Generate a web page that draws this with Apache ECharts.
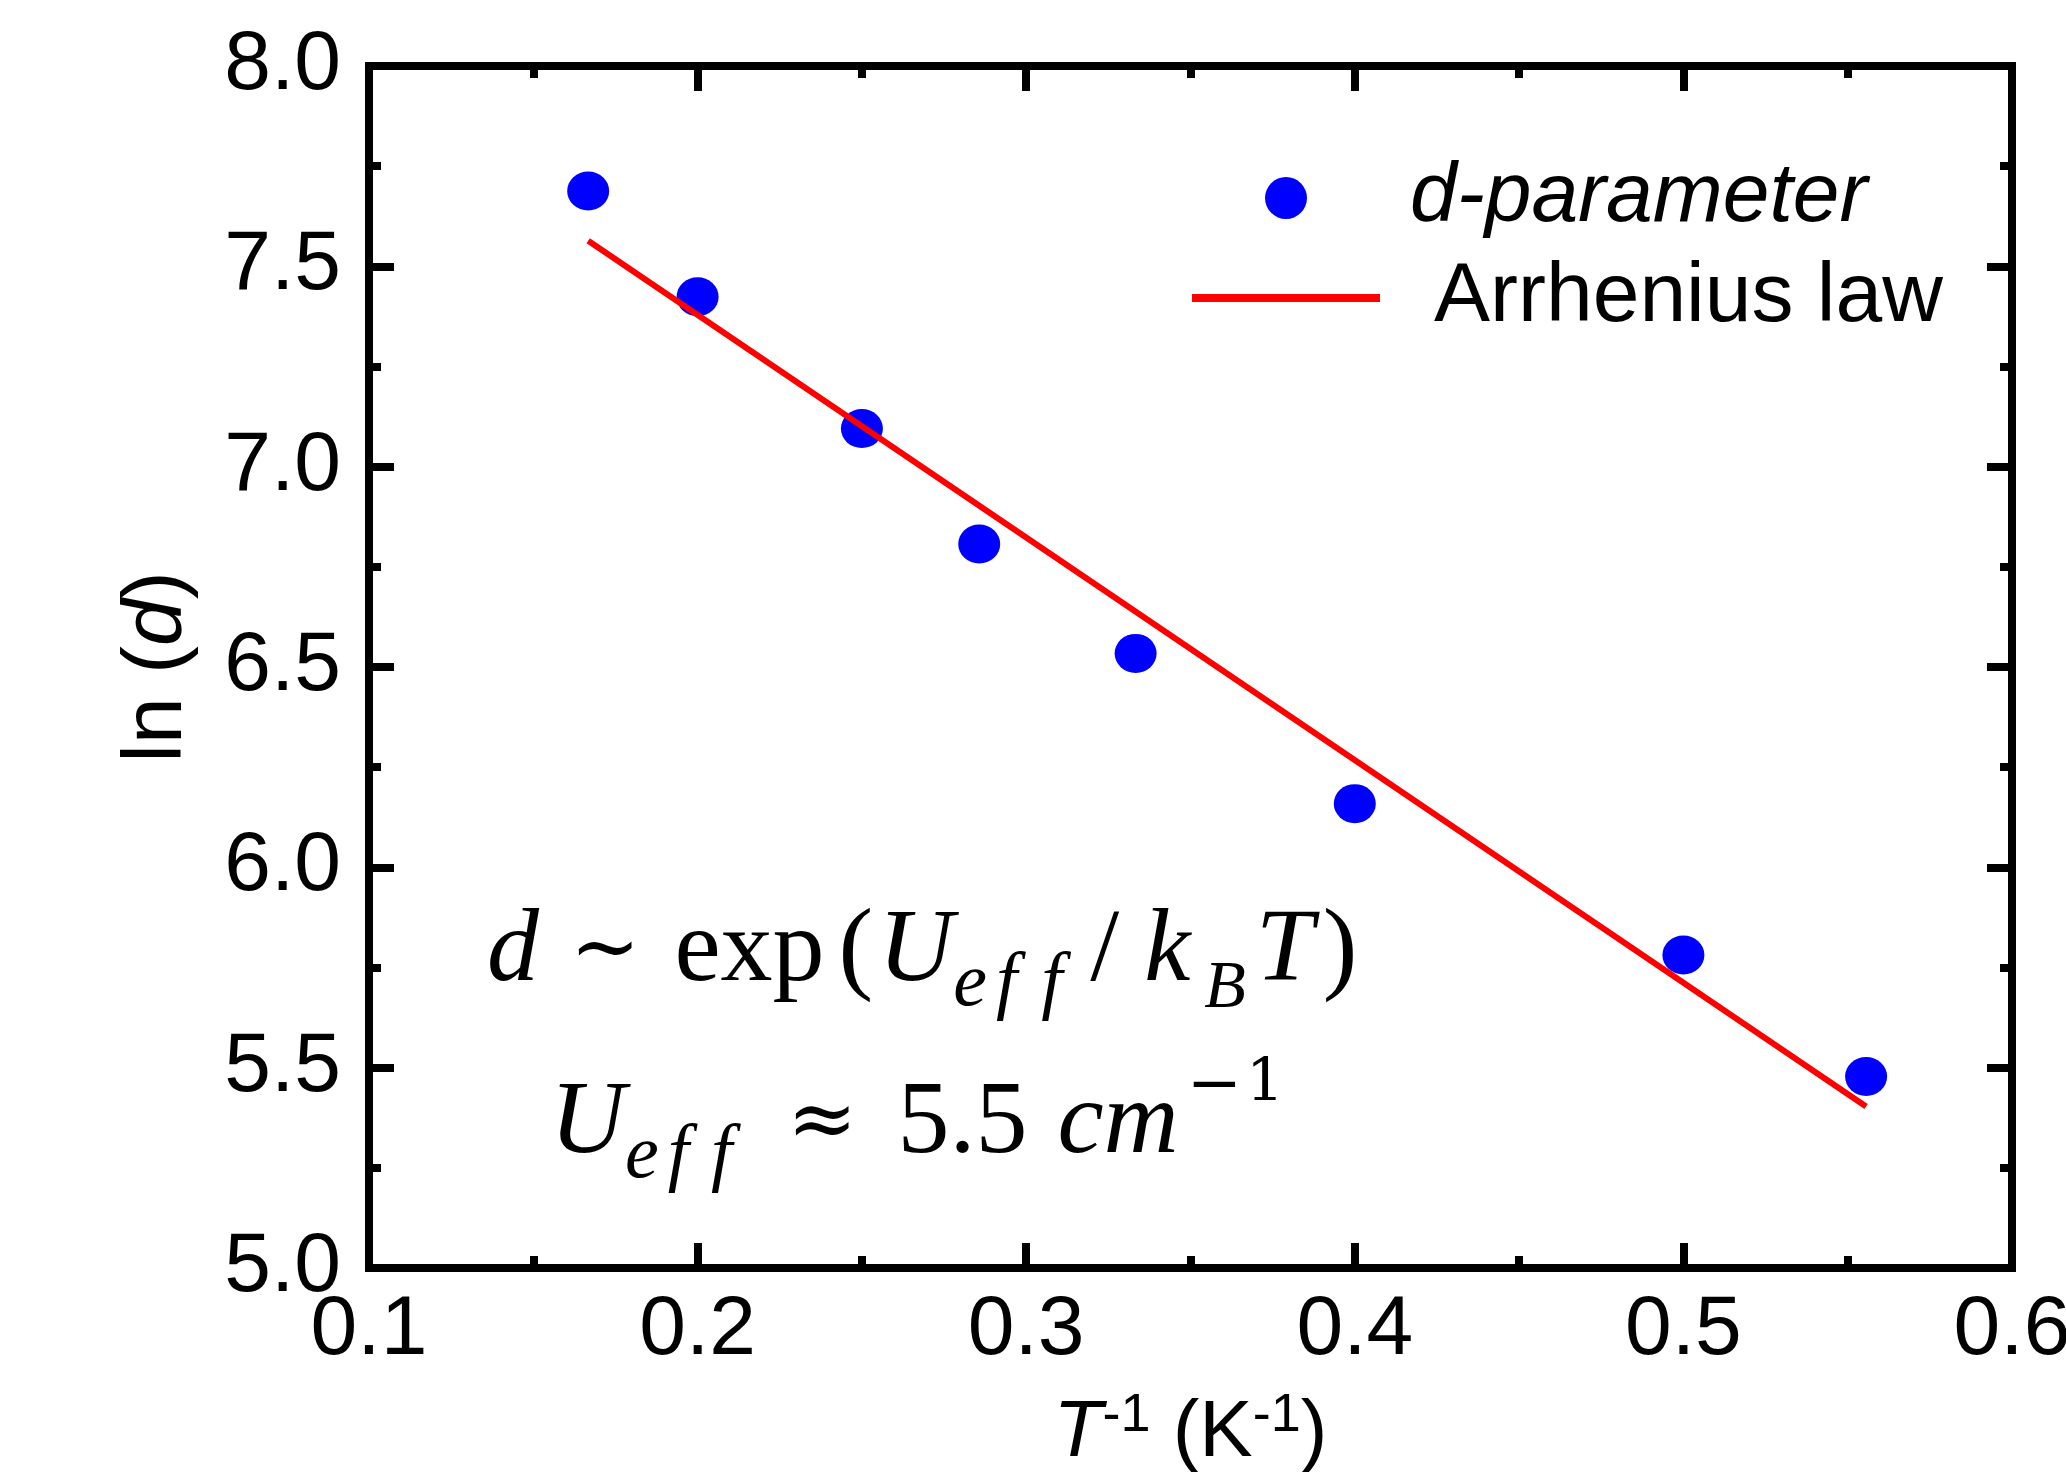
<!DOCTYPE html>
<html>
<head>
<meta charset="utf-8">
<script src="https://cdn.jsdelivr.net/npm/echarts@6/dist/echarts.min.js"></script>
<style>
  html, body { margin: 0; padding: 0; background: #ffffff; }
  #chart { width: 2066px; height: 1472px; }
</style>
</head>
<body>
<div id="chart"></div>
<script>
// Inverse temperature (1/K) and ln of the d-parameter
const invT = [0.1667, 0.2, 0.25, 0.2857, 0.3333, 0.4, 0.5, 0.5556];
const lnD = [7.688, 7.424, 7.095, 6.807, 6.534, 6.159, 5.781, 5.478];

// Arrhenius fit, evaluated at both ends of the measured range
const fitInvT = [0.1667, 0.5556];
const fitLnD = [7.564, 5.403];

// Axis ticks
const xTicks = [0.1, 0.2, 0.3, 0.4, 0.5, 0.6];
const yTicks = [5.0, 5.5, 6.0, 6.5, 7.0, 7.5, 8.0];

const seriesNames = ['d-parameter', 'Arrhenius law'];

const SANS = 'Liberation Sans, Arial, Helvetica, sans-serif';
const SERIF = 'Liberation Serif, Times New Roman, serif';
const SYM = 'DejaVu Serif, serif';

const scatterData = invT.map((x, i) => [x, lnD[i]]);
const fitData = fitInvT.map((x, i) => [x, fitLnD[i]]);

const tickStyle = { color: '#000', width: 8 };
const tickLabel = (margin) => ({
  show: true,
  color: '#000',
  fontFamily: SANS,
  fontSize: 84,
  lineHeight: 82,
  margin: margin,
  formatter: v => v.toFixed(1)
});

function makeAxis(ticks, position, extra) {
  return Object.assign({
    type: 'value',
    position: position,
    min: ticks[0],
    max: ticks[ticks.length - 1],
    interval: +(ticks[1] - ticks[0]).toFixed(3),
    axisLine: { show: false },
    axisTick: { show: true, inside: true, length: 25, lineStyle: tickStyle },
    minorTick: { show: true, splitNumber: 2, length: 12, lineStyle: tickStyle },
    splitLine: { show: false },
    minorSplitLine: { show: false },
    axisLabel: { show: false }
  }, extra || {});
}

// Math annotation: serif text, italic variables, sub- and superscripts.
// Token padding reproduces the wide spacing of a math typesetter.
const M = 104;          // main size
const LH = 140;         // line box
const base = { fontFamily: SERIF, color: '#000' };
const mk = (o) => Object.assign({}, base, o);
const math1 = {
  i:  mk({ fontStyle: 'italic', fontSize: M, lineHeight: LH }),
  t:  mk({ fontFamily: SYM, fontSize: 84, lineHeight: LH, padding: [0, 0, 0, 31] }),
  x:  mk({ fontSize: M, lineHeight: LH, padding: [0, 0, 0, 34] }),
  o:  mk({ fontSize: M, lineHeight: LH, padding: [0, 0, 0, 14] }),
  u:  mk({ fontStyle: 'italic', fontSize: M, lineHeight: LH, padding: [0, 0, 0, 5] }),
  e:  mk({ fontStyle: 'italic', fontSize: 76, lineHeight: 75, verticalAlign: 'bottom' }),
  f1: mk({ fontStyle: 'italic', fontSize: 76, lineHeight: 75, verticalAlign: 'bottom', padding: [0, 0, 0, 9] }),
  f2: mk({ fontStyle: 'italic', fontSize: 76, lineHeight: 75, verticalAlign: 'bottom', padding: [0, 0, 0, 24] }),
  sl: mk({ fontSize: M, lineHeight: LH, padding: [0, 0, 0, 28] }),
  k:  mk({ fontStyle: 'italic', fontSize: M, lineHeight: LH, padding: [0, 0, 0, 25] }),
  b:  mk({ fontStyle: 'italic', fontSize: 68, lineHeight: 72, verticalAlign: 'bottom', padding: [0, 0, 0, 14] }),
  T:  mk({ fontStyle: 'italic', fontSize: M, lineHeight: LH, padding: [0, 0, 0, 10] }),
  c:  mk({ fontSize: M, lineHeight: LH, padding: [0, 0, 0, 9] })
};
const math2 = {
  i:  math1.i,
  e:  mk({ fontStyle: 'italic', fontSize: 76, lineHeight: 81, verticalAlign: 'bottom' }),
  f1: mk({ fontStyle: 'italic', fontSize: 76, lineHeight: 81, verticalAlign: 'bottom', padding: [0, 0, 0, 9] }),
  f2: mk({ fontStyle: 'italic', fontSize: 76, lineHeight: 81, verticalAlign: 'bottom', padding: [0, 0, 0, 22] }),
  ap: mk({ fontFamily: SYM, fontSize: 84, lineHeight: LH, padding: [0, 0, 0, 55] }),
  v:  mk({ fontSize: M, lineHeight: LH, padding: [0, 0, 0, 40] }),
  u:  mk({ fontStyle: 'italic', fontSize: M, lineHeight: LH, padding: [0, 0, 0, 30] }),
  m:  mk({ fontFamily: SYM, fontSize: 66, lineHeight: 92, verticalAlign: 'top', padding: [0, 0, 0, 8] }),
  one: mk({ fontFamily: SYM, fontSize: 60, lineHeight: 88, verticalAlign: 'top', padding: [0, 0, 0, 4] })
};

const chart = echarts.init(document.getElementById('chart'), null, { renderer: 'canvas' });

chart.setOption({
  animation: false,
  backgroundColor: '#ffffff',
  grid: {
    left: 369,
    right: 54,
    top: 66,
    bottom: 204,
    containLabel: false,
    outerBoundsMode: 'none',
    show: true,
    borderColor: '#000',
    borderWidth: 8,
    backgroundColor: 'transparent'
  },
  legend: {
    orient: 'vertical',
    left: 1192,
    top: 156,
    padding: 0,
    itemWidth: 188,
    itemHeight: 42,
    itemGap: 16,
    selectedMode: false,
    symbolKeepAspect: true,
    textStyle: { fontFamily: SANS, fontSize: 84, color: '#000' },
    data: [
      { name: seriesNames[0], icon: 'circle', textStyle: { fontStyle: 'italic', padding: [0, 0, 0, 25] } },
      { name: seriesNames[1], icon: 'path://M0,0L188,0L188,8L0,8Z', textStyle: { padding: [0, 0, 0, 49] } }
    ]
  },
  xAxis: [
    makeAxis(xTicks, 'bottom', {
      axisLabel: tickLabel(22),
      name: '{it|T}{sup|-1} (K{sup|-1})',
      nameLocation: 'middle',
      nameGap: 121,
      nameMoveOverlap: false,
      nameTextStyle: {
        fontFamily: SANS, fontSize: 80, lineHeight: 90, color: '#000',
        rich: {
          it: { fontFamily: SANS, fontStyle: 'italic', fontSize: 80, lineHeight: 90, color: '#000' },
          sup: { fontFamily: SANS, fontSize: 54, lineHeight: 44, verticalAlign: 'top', color: '#000' }
        }
      }
    }),
    makeAxis(xTicks, 'top')
  ],
  yAxis: [
    makeAxis(yTicks, 'left', {
      axisLabel: tickLabel(28),
      name: 'ln ({it|d})',
      nameLocation: 'middle',
      nameGap: 166,
      nameMoveOverlap: false,
      nameTextStyle: {
        fontFamily: SANS, fontSize: 84, lineHeight: 90, color: '#000',
        rich: {
          it: { fontFamily: SANS, fontStyle: 'italic', fontSize: 84, lineHeight: 90, color: '#000' }
        }
      }
    }),
    makeAxis(yTicks, 'right')
  ],
  series: [
    {
      name: seriesNames[0],
      type: 'scatter',
      data: scatterData,
      symbol: 'circle',
      symbolSize: [42, 39],
      itemStyle: { color: '#0000ff', opacity: 1 },
      emphasis: { disabled: true }
    },
    {
      name: seriesNames[1],
      type: 'line',
      data: fitData,
      symbol: 'none',
      showSymbol: false,
      lineStyle: { color: '#ff0000', width: 6 },
      itemStyle: { color: '#ff0000' },
      emphasis: { disabled: true }
    }
  ],
  graphic: [
    {
      type: 'text',
      x: 487,
      y: 953,
      silent: true,
      style: {
        text: '{i|d}{t|~}{x|exp}{o|(}{u|U}{e|e}{f1|f}{f2|f}{sl|/}{k|k}{b|B}{T|T}{c|)}',
        align: 'left',
        verticalAlign: 'middle',
        fontFamily: SERIF,
        fontSize: M,
        lineHeight: LH,
        fill: '#000',
        rich: math1
      }
    },
    {
      type: 'text',
      x: 550,
      y: 1125,
      silent: true,
      style: {
        text: '{i|U}{e|e}{f1|f}{f2|f}{ap|\u2248}{v|5.5}{u|cm}{m|\u2212}{one|1}',
        align: 'left',
        verticalAlign: 'middle',
        fontFamily: SERIF,
        fontSize: M,
        lineHeight: LH,
        fill: '#000',
        rich: math2
      }
    }
  ]
});
</script>
</body>
</html>
